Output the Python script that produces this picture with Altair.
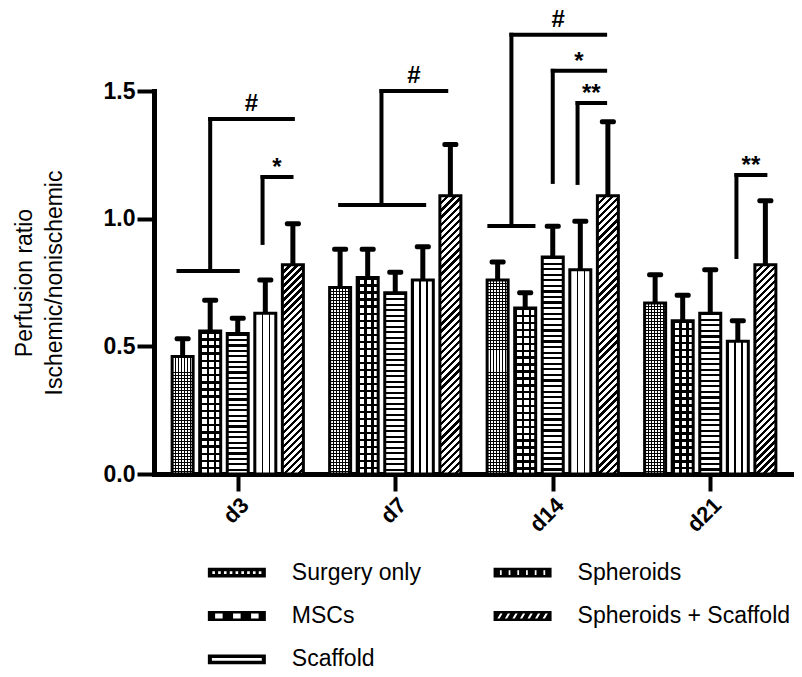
import json
import math
import altair as alt
import pandas as pd

# ---------------- data ----------------
days = ["d3", "d7", "d14", "d21"]
groups = ["Surgery only", "MSCs", "Scaffold", "Spheroids", "Spheroids + Scaffold"]

surgery_mean = [0.46, 0.73, 0.76, 0.67]
surgery_upper = [0.53, 0.88, 0.83, 0.78]
mscs_mean = [0.56, 0.77, 0.65, 0.60]
mscs_upper = [0.68, 0.88, 0.71, 0.70]
scaffold_mean = [0.55, 0.71, 0.85, 0.63]
scaffold_upper = [0.61, 0.79, 0.97, 0.80]
spheroids_mean = [0.63, 0.76, 0.80, 0.52]
spheroids_upper = [0.76, 0.89, 0.99, 0.60]
combo_mean = [0.82, 1.09, 1.09, 0.82]
combo_upper = [0.98, 1.29, 1.38, 1.07]

y_ticks = [0.0, 0.5, 1.0, 1.5]
y_title = ["Perfusion ratio", "Ischemic/nonischemic"]

# significance brackets (x in bar slots relative to the day centre, y in data units)
sig_day = ["d3", "d3", "d7", "d14", "d14", "d14", "d21"]
sig_label = ["#", "*", "#", "#", "*", "**", "**"]
sig_from = [-1.0, 0.9, -0.5, -1.5, 0.0, 0.9, 0.95]
sig_to = [2.0, 1.95, 1.85, 1.9, 1.9, 1.9, 2.0]
sig_low = [0.795, 0.905, 1.054, 0.971, 1.144, 1.14, 0.85]
sig_high = [1.39, 1.163, 1.5, 1.72, 1.579, 1.453, 1.171]
sig_base_from = [-2.15, None, -2.0, -2.3, None, None, None]
sig_base_to = [0.0, None, 1.05, -0.7, None, None, None]

# ---------------- layout / style ----------------
FONT = "Liberation Sans"
PLOT_W, PLOT_H = 640, 383
BAR_W, BAR_STEP, DAY_STEP = 21, 28, 160
SLOTS = DAY_STEP / BAR_STEP
Y_MAX = 1.5
PX = PLOT_H / Y_MAX
CLEAR = "rgba(0,0,0,0)"

means = [surgery_mean, mscs_mean, scaffold_mean, spheroids_mean, combo_mean]
uppers = [surgery_upper, mscs_upper, scaffold_upper, spheroids_upper, combo_upper]

rows = []
for gi, day in enumerate(days):
    for si, grp in enumerate(groups):
        rows.append(dict(day=day, group=grp, slot=gi * SLOTS + si - 2,
                         mean=means[si][gi], upper=uppers[si][gi]))
bars = pd.DataFrame(rows)

x_scale = alt.Scale(domain=[-DAY_STEP / 2 / BAR_STEP, (PLOT_W - DAY_STEP / 2) / BAR_STEP],
                    nice=False, zero=False)
y_scale = alt.Scale(domain=[0, Y_MAX], nice=False, zero=True)

label_expr = json.dumps(days) + "[round(datum.value / %r)]" % SLOTS
x_axis = alt.Axis(values=[i * SLOTS for i in range(len(days))], labelExpr=label_expr,
                  title=None, grid=False, labelAngle=-45, labelAlign="right",
                  labelBaseline="top", labelFont=FONT, labelFontSize=22,
                  labelFontWeight="bold", labelColor="black", labelPadding=3,
                  tickSize=17, tickWidth=4, tickColor="black",
                  domainColor="black", domainWidth=5, domainCap="square")
y_axis = alt.Axis(values=y_ticks, format=".1f", title=y_title, grid=False,
                  labelFont=FONT, labelFontSize=23, labelFontWeight="bold",
                  labelColor="black", labelPadding=2, tickSize=17, tickWidth=4,
                  tickColor="black", domainColor="black", domainWidth=5,
                  domainCap="square", titleFont=FONT, titleFontSize=23,
                  titleFontWeight="normal", titleColor="black", titlePadding=37,
                  titleLineHeight=30)


def X(field):
    return alt.X(field, type="quantitative", scale=x_scale, axis=x_axis)


def Y(field):
    return alt.Y(field, type="quantitative", scale=y_scale, axis=y_axis)


def stops(n, frac, on, off):
    out = []
    for i in range(n):
        a, b, c = i / n, (i + frac) / n, (i + 1) / n
        out += [{"offset": round(a, 5), "color": on}, {"offset": round(b, 5), "color": on},
                {"offset": round(b, 5), "color": off}, {"offset": round(c, 5), "color": off}]
    return out


def vstripes(w, period, frac, on="black", off="white"):
    n = max(1, round(w / period))
    return {"gradient": "linear", "x1": 0, "y1": 0, "x2": 1, "y2": 0,
            "stops": stops(n, frac, on, off)}


def hstripes(h, period, frac, on="black", off="white"):
    n = max(1, round(h / period))
    return {"gradient": "linear", "x1": 0, "y1": 0, "x2": 0, "y2": 1,
            "stops": stops(n, frac, on, off)}


def dstripes(w, h, period, frac, on="black", off="white"):
    k = (w + h) / (w * w + h * h)
    n = max(1, round((w + h) / math.sqrt(2) / period))
    return {"gradient": "linear", "x1": 0, "y1": 0, "x2": round(w * k, 6),
            "y2": round(h * k, 6), "stops": stops(n, frac, on, off)}


def fills(group, h):
    w = BAR_W
    if group == "Surgery only":
        return [vstripes(w, 3, 0.35), hstripes(h, 3, 0.3, "black", CLEAR)]
    if group == "MSCs":
        return [vstripes(w, 7, 0.4), hstripes(h, 7, 0.35, "black", CLEAR)]
    if group == "Scaffold":
        return [hstripes(h, 5.5, 0.4)]
    if group == "Spheroids":
        return [vstripes(w, 7, 0.2)]
    return [dstripes(w, h, 5, 0.45)]


layers = []
for r in rows:
    h = r["mean"] * PX
    for f in fills(r["group"], h):
        layers.append(
            alt.Chart(pd.DataFrame([r])).mark_bar(
                orient="vertical", width=BAR_W, fill=f, strokeWidth=0, opacity=1
            ).encode(x=X("slot"), y=Y("mean"))
        )

outline = alt.Chart(bars).mark_bar(
    orient="vertical", width=BAR_W, fill="transparent", stroke="black", strokeWidth=3
).encode(x=X("slot"), y=Y("mean"))

err = alt.Chart(bars).mark_rule(color="black", strokeWidth=5).encode(
    x=X("slot"), y=Y("mean"), y2=alt.Y2("upper"))
caps = alt.Chart(bars).mark_tick(
    orient="horizontal", color="black", size=16, thickness=5, cornerRadius=2, opacity=1
).encode(x=X("slot"), y=Y("upper"))

seg_rows, txt_rows = [], []
for i, d in enumerate(sig_day):
    c = days.index(d) * SLOTS
    xv, xe = c + sig_from[i], c + sig_to[i]
    seg_rows.append(dict(x=xv, x2=xv, y=sig_low[i], y2=sig_high[i]))
    seg_rows.append(dict(x=xv, x2=xe, y=sig_high[i], y2=sig_high[i]))
    if sig_base_from[i] is not None:
        seg_rows.append(dict(x=c + sig_base_from[i], x2=c + sig_base_to[i],
                             y=sig_low[i], y2=sig_low[i]))
    txt_rows.append(dict(x=(xv + xe) / 2, y=sig_high[i], label=sig_label[i],
                         kind="hash" if sig_label[i] == "#" else "star"))
segs = pd.DataFrame(seg_rows)
txts = pd.DataFrame(txt_rows)

brackets = alt.Chart(segs).mark_rule(color="black", strokeWidth=4, strokeCap="square").encode(
    x=X("x"), x2=alt.X2("x2"), y=Y("y"), y2=alt.Y2("y2"))
hash_text = alt.Chart(txts).transform_filter(alt.datum.kind == "hash").mark_text(
    baseline="alphabetic", dy=-8, fontSize=24, fontWeight="bold", font=FONT, color="black"
).encode(x=X("x"), y=Y("y"), text="label:N")
star_text = alt.Chart(txts).transform_filter(alt.datum.kind == "star").mark_text(
    baseline="alphabetic", dy=-2, fontSize=24, fontWeight="bold", font=FONT, color="black"
).encode(x=X("x"), y=Y("y"), text="label:N")

main = alt.layer(*layers, outline, err, caps, brackets, hash_text, star_text).properties(
    width=PLOT_W, height=PLOT_H)

# ---------------- legend ----------------
def rect(cx, cy, hw, hh):
    return "M%.3f,%.3fH%.3fV%.3fH%.3fZ" % (cx - hw, cy - hh, cx + hw, cy + hh, cx - hw)


SYM_W = 58
SYM_SIZE = SYM_W * SYM_W
box_path = rect(0, 0, 1, 0.17)
inner_paths = [
    "".join(rect(-0.8 + 0.2 * i, 0, 0.045, 0.045) for i in range(9)),
    "".join(rect(-0.62 + 0.62 * i, 0, 0.13, 0.09) for i in range(3)),
    rect(0, 0, 0.86, 0.05),
    "".join(rect(-0.75 + 0.3 * i, 0, 0.03, 0.08) for i in range(6)),
    "".join("M%.3f,0.09L%.3f,-0.09L%.3f,-0.09L%.3f,0.09Z" % (x - 0.09, x + 0.01, x + 0.09, x - 0.01)
            for x in [-0.78 + 0.26 * i for i in range(7)]),
]

leg = pd.DataFrame([dict(group=g, col=0 if i < 3 else 1, row=i if i < 3 else i - 3)
                    for i, g in enumerate(groups)])
LEG_H = 130
leg_base = alt.Chart(leg).encode(
    x=alt.X("col:Q", scale=alt.Scale(domain=[-0.29, 1.95], nice=False, zero=False), axis=None),
    y=alt.Y("row:Q", scale=alt.Scale(domain=[-0.5, 2.5], nice=False, zero=False, reverse=True),
            axis=None),
)
leg_box = leg_base.mark_point(shape=box_path, size=SYM_SIZE, filled=True, color="black",
                              opacity=1, strokeWidth=0)
leg_inner = leg_base.mark_point(size=SYM_SIZE, filled=True, color="white", opacity=1,
                                strokeWidth=0).encode(
    shape=alt.Shape("group:N", scale=alt.Scale(domain=groups, range=inner_paths), legend=None))
leg_text = leg_base.mark_text(align="left", dx=55, fontSize=23, font=FONT,
                              color="black").encode(text="group:N")
legend = alt.layer(leg_box, leg_inner, leg_text).properties(width=PLOT_W, height=LEG_H)

chart = alt.vconcat(main, legend, spacing=15).configure_view(stroke=None).properties(
    padding={"left": 13, "top": 7, "right": 0, "bottom": 0}, background="white")

chart.save("out.html", embed_options={"renderer": "svg", "actions": False})
